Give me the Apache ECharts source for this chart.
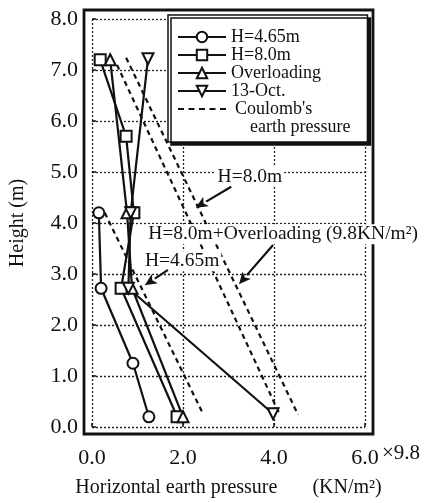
<!DOCTYPE html>
<html>
<head>
<meta charset="utf-8">
<script src="https://cdn.jsdelivr.net/npm/echarts@6/dist/echarts.min.js"></script>
<style>
html, body { margin: 0; padding: 0; background: #fff; }
#main { width: 442px; height: 503px; }
</style>
</head>
<body>
<div id="main"></div>
<script>
// measured horizontal earth pressure (x 9.8 KN/m2) vs height (m)
var h465Pressure = [0.15, 0.2, 0.9, 1.25];
var h465Height   = [4.2, 2.72, 1.25, 0.2];
var h80Pressure  = [0.18, 0.75, 0.92, 0.64, 1.87];
var h80Height    = [7.2, 5.7, 4.2, 2.72, 0.2];
var overPressure = [0.4, 0.77, 0.88, 2.0];
var overHeight   = [7.2, 4.2, 2.72, 0.2];
var octPressure  = [1.23, 0.85, 0.8, 3.98];
var octHeight    = [7.22, 4.2, 2.72, 0.26];

// Coulomb's earth pressure lines (pressure, height at both ends)
var coulomb465Pressure  = [0.28, 2.45];
var coulomb465Height    = [4.2, 0.24];
var coulomb80Pressure   = [0.55, 4.13];
var coulomb80Height     = [7.1, 0.24];
var coulombOverPressure = [0.75, 4.53];
var coulombOverHeight   = [7.24, 0.24];

// axes
var xMax = 6, xStep = 2;
var yMax = 8, yStep = 1;

var FONT = '"Liberation Serif", "DejaVu Serif", serif';
var INK = '#111';

function pairs(xs, ys) {
    return xs.map(function (x, i) { return [x, ys[i]]; });
}

var dom = document.getElementById('main');
var myChart = echarts.init(dom);

function measured(name, xs, ys, symbol, rotate) {
    return {
        name: name,
        type: 'line',
        xAxisIndex: 1,
        yAxisIndex: 1,
        data: pairs(xs, ys),
        symbol: symbol,
        symbolSize: 11,
        symbolRotate: rotate || 0,
        showAllSymbol: true,
        lineStyle: { color: INK, width: 2.2 },
        itemStyle: { color: INK, borderWidth: 1.7 },
        z: 3,
        animation: false
    };
}

function coulomb(xs, ys) {
    return {
        name: "Coulomb's",
        type: 'line',
        xAxisIndex: 1,
        yAxisIndex: 1,
        data: pairs(xs, ys),
        symbol: 'none',
        lineStyle: { color: INK, width: 2.2, type: [5, 4] },
        itemStyle: { color: INK },
        z: 2,
        animation: false
    };
}

var dashIcon = 'path://M0,0h6v2h-6z M10.5,0h6v2h-6z M21,0h6v2h-6z M31.5,0h6v2h-6z M42,0h6v2h-6z';

var option = {
    animation: false,
    grid: [
        { left: 84, right: 69, top: 10, bottom: 69, show: true, borderColor: INK, borderWidth: 2.8, backgroundColor: 'transparent' },
        { left: 92, right: 77, top: 19, bottom: 76 }
    ],
    xAxis: [
        { gridIndex: 0, type: 'value', show: false, min: 0, max: 1 },
        {
            gridIndex: 1, type: 'value', min: 0, max: xMax, interval: xStep, offset: 7,
            axisLine: { show: false },
            axisTick: { show: true, inside: true, length: 4, lineStyle: { color: INK, width: 1.5 } },
            axisLabel: { margin: 13, fontSize: 22, fontFamily: FONT, color: INK, formatter: function (v) { return v.toFixed(1); } },
            splitLine: { show: true, lineStyle: { type: [2, 2], color: '#222', width: 1.3 } },
            name: 'Horizontal earth pressure       (KN/m\u00b2)',
            nameLocation: 'middle', nameGap: 44,
            nameTextStyle: { fontSize: 20, fontFamily: FONT, color: INK }
        }
    ],
    yAxis: [
        { gridIndex: 0, type: 'value', show: false, min: 0, max: 1 },
        {
            gridIndex: 1, type: 'value', min: 0, max: yMax, interval: yStep, offset: 8,
            axisLine: { show: false },
            axisTick: { show: true, inside: true, length: 4, lineStyle: { color: INK, width: 1.5 } },
            axisLabel: { margin: 6, fontSize: 22, fontFamily: FONT, color: INK, formatter: function (v) { return v.toFixed(1); } },
            splitLine: { show: true, lineStyle: { type: [2, 2], color: '#222', width: 1.3 } },
            name: 'Height (m)',
            nameLocation: 'middle', nameGap: 56,
            nameTextStyle: { fontSize: 20, fontFamily: FONT, color: INK }
        }
    ],
    legend: {
        orient: 'vertical', left: 168, top: 15,
        padding: [13, 17, 6, 9], itemGap: 0, itemWidth: 48, itemHeight: 13,
        backgroundColor: '#fff', borderColor: INK, borderWidth: 1.5,
        shadowColor: INK, shadowOffsetX: 3, shadowOffsetY: 3, shadowBlur: 0,
        selectedMode: false,
        textStyle: { fontFamily: FONT, fontSize: 18, lineHeight: 18, color: INK },
        data: [
            'H=4.65m', 'H=8.0m', 'Overloading', '13-Oct.',
            { name: "Coulomb's", icon: dashIcon, textStyle: { padding: [0, 0, 0, 4] } },
            { name: 'earth pressure', icon: 'none', textStyle: { padding: [0, 0, 0, 19] } }
        ]
    },
    series: [
        coulomb(coulomb465Pressure, coulomb465Height),
        coulomb(coulomb80Pressure, coulomb80Height),
        coulomb(coulombOverPressure, coulombOverHeight),
        measured('H=4.65m', h465Pressure, h465Height, 'emptyCircle'),
        measured('H=8.0m', h80Pressure, h80Height, 'emptyRect'),
        measured('Overloading', overPressure, overHeight, 'emptyTriangle'),
        measured('13-Oct.', octPressure, octHeight, 'emptyTriangle', 180),
        { name: 'earth pressure', type: 'line', xAxisIndex: 1, yAxisIndex: 1, data: [], symbol: 'none', lineStyle: { width: 0, opacity: 0 } }
    ]
};

if (option && typeof option === "object") {
    myChart.setOption(option, true);
}

// annotations: label anchor and arrow, in data units
var notes = [
    { text: 'H=8.0m', at: [3.47, 4.9], align: 'center', tail: [3.06, 4.71], head: [2.28, 4.3] },
    { text: 'H=8.0m+Overloading (9.8KN/m\u00b2)', at: [1.19, 3.78], align: 'left', tail: [3.98, 3.57], head: [3.23, 2.8] },
    { text: 'H=4.65m', at: [1.12, 3.25], align: 'left', tail: [1.67, 3.08], head: [1.16, 2.78] }
];

function px(p) {
    return myChart.convertToPixel({ xAxisIndex: 1, yAxisIndex: 1 }, p);
}

var elements = [];
notes.forEach(function (n) {
    var a = px(n.at);
    elements.push({
        type: 'text', z: 100,
        style: {
            text: n.text, x: a[0], y: a[1], font: '19.5px ' + FONT, fill: INK,
            align: n.align, verticalAlign: 'middle', backgroundColor: '#fff', padding: [0, 2]
        }
    });
    var t = px(n.tail), h = px(n.head);
    var dx = h[0] - t[0], dy = h[1] - t[1];
    var len = Math.sqrt(dx * dx + dy * dy);
    var ux = dx / len, uy = dy / len;
    var bx = h[0] - ux * 12, by = h[1] - uy * 12;
    elements.push({
        type: 'line', z: 101,
        shape: { x1: t[0], y1: t[1], x2: bx, y2: by },
        style: { stroke: INK, lineWidth: 2.2 }
    });
    elements.push({
        type: 'polygon', z: 101,
        shape: { points: [[h[0], h[1]], [bx - uy * 5.5, by + ux * 5.5], [bx + ux * 3, by + uy * 3], [bx + uy * 5.5, by - ux * 5.5]] },
        style: { fill: INK }
    });
});

// "x 9.8" multiplier after the last tick label
var last = px([xMax, 0]);
elements.push({
    type: 'text', z: 100,
    style: { text: '\u00d79.8', x: last[0] + 17, y: last[1] + 26, font: '21px ' + FONT, fill: INK, align: 'left', verticalAlign: 'middle' }
});

myChart.setOption({ graphic: elements });
</script>
</body>
</html>
